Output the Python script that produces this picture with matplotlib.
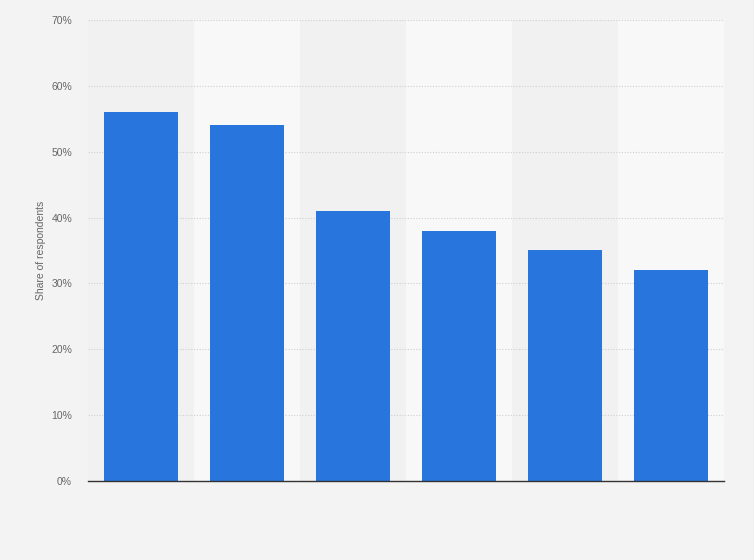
import matplotlib
matplotlib.use("Agg")
import matplotlib.pyplot as plt
import numpy as np

plt.rcParams['font.family'] = ['Liberation Sans', 'DejaVu Sans']

categories = ["A", "B", "C", "D", "E", "F"]
values = [56, 54, 41, 38, 35, 32]
yticks = [0, 10, 20, 30, 40, 50, 60, 70]
ytick_labels = ["0%", "10%", "20%", "30%", "40%", "50%", "60%", "70%"]

fig = plt.figure(figsize=(7.54, 5.6), dpi=100)
fig.patch.set_facecolor("#f3f3f3")
ax = fig.add_axes([0.1167, 0.1411, 0.8435, 0.8232])
ax.set_facecolor("#f3f3f3")

x = np.arange(len(categories))
for i in x:
    ax.axvspan(i - 0.5, i + 0.5, color="#f1f1f1" if i % 2 == 0 else "#f8f8f8", zorder=0, lw=0)

ax.bar(x, values, width=0.69, color="#2876dd", zorder=3)
ax.set_xlim(-0.5, len(categories) - 0.5)
ax.set_ylim(0, 70)
ax.set_yticks(yticks)
ax.set_yticklabels(ytick_labels, fontsize=7.5, color="#666666")
ax.set_xticks([])
ax.yaxis.grid(True, linestyle=(0, (1, 1.5)), color="#cfcfcf", lw=0.8, zorder=1)
ax.tick_params(axis="y", length=0, pad=11.5)
for s in ["top", "right", "left"]:
    ax.spines[s].set_visible(False)
ax.spines["bottom"].set_color("#333333")
ax.spines["bottom"].set_linewidth(1.0)
ax.spines["bottom"].set_zorder(4)
ax.set_ylabel("Share of respondents", fontsize=7.5, color="#666666", labelpad=4)

fig.savefig("out.png", dpi=100, facecolor=fig.get_facecolor())
